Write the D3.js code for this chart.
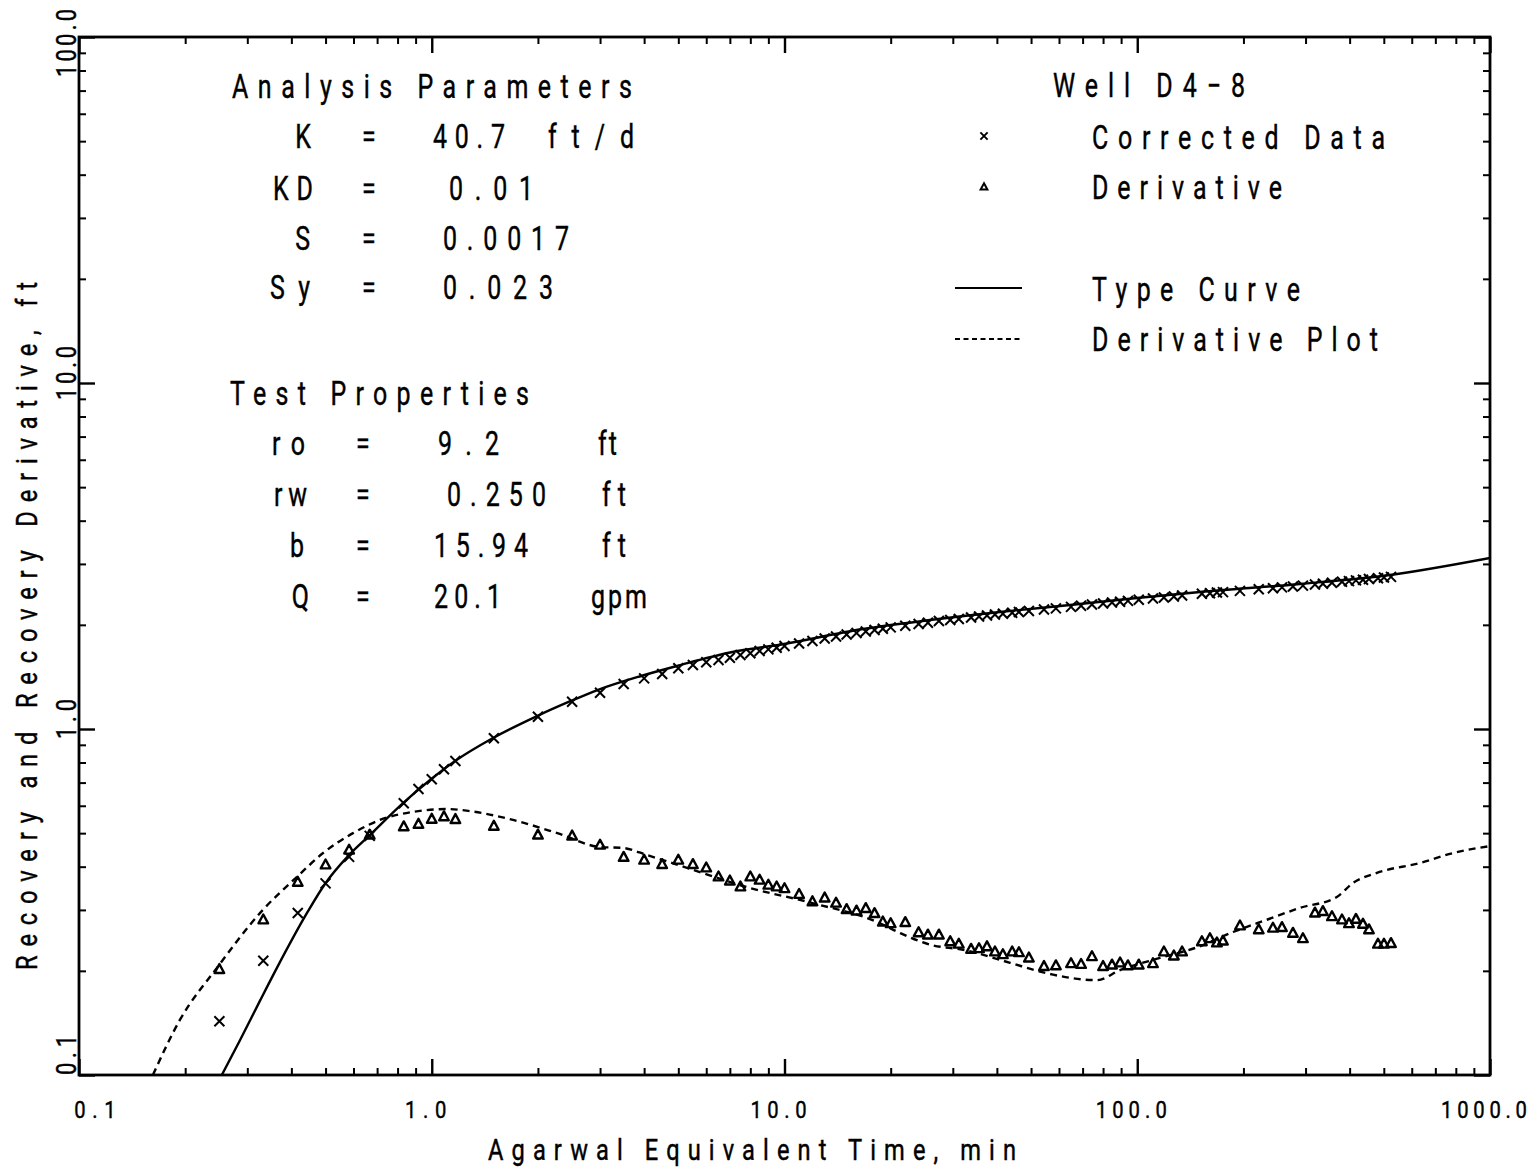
<!DOCTYPE html>
<html>
<head>
<meta charset="utf-8">
<script src="https://cdn.jsdelivr.net/npm/d3@7"></script>
<style>
  html, body { margin: 0; padding: 0; background: #fff; }
  svg { display: block; }
  text { font-family: Roboto, "DejaVu Sans", sans-serif; fill: #000; stroke: #000; stroke-width: 0.45px; }
</style>
</head>
<body>
<svg id="chart" width="1539" height="1169"></svg>
<script>
// ---------------- DATA ----------------
const timeMin = [0.25,0.333,0.417,0.5,0.583,0.667,0.833,0.917,1.0,1.083,1.167,1.5,2.0,2.5,3.0,3.5,4.0,4.5,5.0,5.5,6.0,6.5,7.0,7.5,8.0,8.5,9.0,9.5,10,11,12,13,14,15,16,17,18,19,20,22,24,25.5,27.4,29.5,31.2,33.8,35.6,37.5,39.5,41.6,44.2,46.2,49.3,54.4,58.8,64.9,69.3,74.4,80,84.8,89.4,94.1,101,110.8,119,127,134,152.5,160.7,168.2,175,195.5,221,242.5,257.2,276.3,294.9,319,336,356.4,380.5,398.3,416.9,436.4,453.8,481.3,500.5,524];

const correctedData = [0.143,0.214,0.294,0.358,0.427,0.491,0.610,0.671,0.716,0.765,0.808,0.940,
  1.085,1.199,1.273,1.349,1.401,1.442,1.498,1.531,1.559,1.583,1.607,1.636,1.655,1.680,1.699,1.718,1.738,
  1.767,1.796,1.827,1.851,1.876,1.895,1.913,1.932,1.949,1.967,
  1.988,2.011,2.029,2.052,2.065,2.079,2.100,2.114,2.128,2.142,2.154,2.167,2.179,2.193,
  2.214,2.232,2.254,2.271,2.289,2.306,2.320,2.332,2.346,2.363,2.384,2.400,2.415,2.430,
  2.460,2.469,2.479,2.486,2.508,2.534,2.552,2.566,2.580,2.596,2.616,2.630,2.646,2.664,2.676,2.689,2.701,2.712,2.728,2.740,2.752];

const derivativeData = [0.202,0.281,0.361,0.405,0.447,0.494,0.522,0.531,0.549,0.558,0.548,0.524,
  0.494,0.491,0.462,0.426,0.418,0.406,0.418,0.406,0.397,0.374,0.364,0.350,0.374,0.366,0.354,0.350,0.346,
  0.333,0.317,0.325,0.314,0.301,0.298,0.303,0.293,0.277,0.274,
  0.276,0.258,0.254,0.254,0.243,0.239,0.231,0.232,0.235,0.227,0.223,0.227,0.226,0.218,
  0.206,0.207,0.210,0.209,0.220,0.206,0.208,0.211,0.207,0.208,0.210,0.227,0.221,0.227,
  0.243,0.248,0.241,0.244,0.270,0.263,0.266,0.267,0.257,0.248,0.294,0.297,0.287,0.281,0.274,0.282,0.273,0.263,0.239,0.239,0.240];

const typeCurveTime  = [0.254,0.286,0.326,0.364,0.443,0.498,0.579,0.664,0.829,0.989,1.164,1.492,1.988,2.48,2.95,3.92,4.957,7.008,9.97,16.70,25.85,40.8,64.5,99.8,150.6,289.3,520.6,1000];
const typeCurveValue = [0.1,0.126,0.164,0.204,0.294,0.3565,0.429,0.491,0.611,0.712,0.808,0.942,1.090,1.205,1.296,1.423,1.521,1.664,1.761,1.945,2.065,2.179,2.283,2.391,2.489,2.625,2.787,3.120];

const derivPlotTime  = [0.162,0.193,0.246,0.332,0.415,0.492,0.598,0.713,0.885,1.105,1.283,1.70,2.27,3.00,3.49,4.08,5.29,7.83,12.0,18.6,21.3,25.9,32.1,43.6,53.0,57.7,76.9,89.4,116,148,187,233,289,368,409,478,633,786,1000];
const derivPlotValue = [0.1,0.144,0.204,0.300,0.374,0.438,0.500,0.546,0.576,0.587,0.579,0.546,0.500,0.456,0.453,0.432,0.397,0.349,0.314,0.275,0.257,0.238,0.230,0.211,0.199,0.195,0.188,0.201,0.218,0.234,0.259,0.281,0.304,0.327,0.359,0.384,0.410,0.438,0.459];

const xTickValues = [0.1, 1, 10, 100, 1000];
const xTickLabels = ["0.1", "1.0", "10.0", "100.0", "1000.0"];
const yTickValues = [0.1, 1, 10, 100];
const yTickLabels = ["0.1", "1.0", "10.0", "100.0"];

const xTitle = "Agarwal Equivalent Time, min";
const yTitle = "Recovery and Recovery Derivative, ft";

const analysisTitle = "Analysis Parameters";
const paramNames  = ["K", "KD", "S", "Sy"];
const paramValues = ["40.7", "0.01", "0.0017", "0.023"];
const paramUnits  = ["ft/d", "", "", ""];

const testTitle = "Test Properties";
const propNames  = ["ro", "rw", "b", "Q"];
const propValues = ["9.2", "0.250", "15.94", "20.1"];
const propUnits  = ["ft", "ft", "ft", "gpm"];

const wellTitle = "Well D4\u22128";
const legendLabels = ["Corrected Data", "Derivative", "Type Curve", "Derivative Plot"];

// ---------------- LAYOUT ----------------
const L = 79, R = 1490, T = 37, B = 1075;
const svg = d3.select("#chart");
svg.append("rect").attr("width", 1539).attr("height", 1169).attr("fill", "#fff");

const x = d3.scaleLog().domain([0.1, 1000]).range([L, R]);
const y = d3.scaleLog().domain([0.1, 100]).range([B, T]);

function stext(str, px, py, cap, opts = {}) {
  const sx = opts.sx || 0.74;
  const fs = cap / 0.711;
  let tr = `translate(${px},${py})`;
  if (opts.rot) tr += " rotate(-90)";
  tr += ` scale(${sx},1)`;
  const t = svg.append("text")
    .attr("transform", tr)
    .attr("text-anchor", opts.anchor || "start")
    .style("font-size", fs + "px")
    .text(str);
  if (opts.w && str.length > 1) {
    t.attr("textLength", opts.w / sx).attr("lengthAdjust", "spacing");
  }
  return t;
}

// ---------------- AXES (ticks inward on all four sides) ----------------
const minorTicks = [];
for (let d = 0.1; d < 1000; d *= 10) {
  for (let k = 2; k <= 9; k++) minorTicks.push(+(d * k).toPrecision(3));
}
const yMinor = minorTicks.filter(v => v < 100);

const axG = svg.append("g").attr("stroke", "#000").attr("fill", "none");
function axisTicks(axisGen, transform, major) {
  const g = axG.append("g").attr("transform", transform).call(axisGen);
  g.select(".domain").remove();
  g.selectAll("text").remove();
  g.selectAll("line").attr("stroke", "#000").attr("stroke-width", major ? 2.4 : 2);
}
const MAJ = 16, MIN = 7;
axisTicks(d3.axisTop(x).tickValues(xTickValues).tickSize(MAJ), `translate(0,${B})`, true);
axisTicks(d3.axisTop(x).tickValues(minorTicks).tickSize(MIN), `translate(0,${B})`, false);
axisTicks(d3.axisBottom(x).tickValues(xTickValues).tickSize(MAJ), `translate(0,${T})`, true);
axisTicks(d3.axisBottom(x).tickValues(minorTicks).tickSize(MIN), `translate(0,${T})`, false);
axisTicks(d3.axisRight(y).tickValues(yTickValues).tickSize(MAJ), `translate(${L},0)`, true);
axisTicks(d3.axisRight(y).tickValues(yMinor).tickSize(MIN), `translate(${L},0)`, false);
axisTicks(d3.axisLeft(y).tickValues(yTickValues).tickSize(MAJ), `translate(${R},0)`, true);
axisTicks(d3.axisLeft(y).tickValues(yMinor).tickSize(MIN), `translate(${R},0)`, false);

svg.append("rect").attr("x", L).attr("y", T).attr("width", R - L).attr("height", B - T)
  .attr("fill", "none").attr("stroke", "#000").attr("stroke-width", 2.8);

// tick labels
xTickValues.forEach((v, i) => {
  const cx = Math.max(x(v) - 6, L + 16);
  const s = xTickLabels[i];
  stext(s, cx, 1118, 17.5, { anchor: "middle", w: s.length * 14.8 - 3, sx: 0.82 });
});
yTickValues.forEach((v, i) => {
  const cy = Math.min(Math.max(y(v) - 10, T + 6), B - 20);
  const s = yTickLabels[i];
  stext(s, 76, cy, 20, { anchor: "middle", rot: true, w: s.length * 14 - 2, sx: 0.78 });
});

// axis titles
stext(xTitle, 488, 1160, 21, { w: 528, sx: 0.8 });
stext(yTitle, 37, 970, 21, { rot: true, w: 688, sx: 0.8 });

// ---------------- CURVES ----------------
const clipId = "plotClip";
svg.append("clipPath").attr("id", clipId).append("rect")
  .attr("x", L).attr("y", T).attr("width", R - L).attr("height", B - T);

const line = d3.line().x(d => x(d[0])).y(d => y(d[1])).curve(d3.curveMonotoneX);

svg.append("path")
  .datum(typeCurveTime.map((t, i) => [t, typeCurveValue[i]]))
  .attr("d", line).attr("fill", "none").attr("stroke", "#000").attr("stroke-width", 2.4)
  .attr("clip-path", `url(#${clipId})`);

svg.append("path")
  .datum(derivPlotTime.map((t, i) => [t, derivPlotValue[i]]))
  .attr("d", line).attr("fill", "none").attr("stroke", "#000").attr("stroke-width", 2.4)
  .attr("stroke-dasharray", "7,5")
  .attr("clip-path", `url(#${clipId})`);

// ---------------- MARKERS ----------------
function crossPath(s) { return `M${-s},${-s}L${s},${s}M${-s},${s}L${s},${-s}`; }
function triPath(s) { return `M0,${-s * 1.1}L${s},${s * 0.75}L${-s},${s * 0.75}Z`; }

svg.append("g").selectAll("path.cross")
  .data(timeMin.map((t, i) => [t, correctedData[i]]))
  .join("path").attr("class", "cross")
  .attr("transform", d => `translate(${x(d[0])},${y(d[1])})`)
  .attr("d", crossPath(5))
  .attr("fill", "none").attr("stroke", "#000").attr("stroke-width", 2);

svg.append("g").selectAll("path.tri")
  .data(timeMin.map((t, i) => [t, derivativeData[i]]))
  .join("path").attr("class", "tri")
  .attr("transform", d => `translate(${x(d[0])},${y(d[1])})`)
  .attr("d", triPath(4.8))
  .attr("fill", "none").attr("stroke", "#000").attr("stroke-width", 2.4)
  .attr("stroke-linejoin", "round");

// ---------------- ANNOTATION TEXT ----------------
const CAP = 24;
stext(analysisTitle, 232, 98, CAP, { w: 400 });
const paramBase = [148, 200, 250, 299];
const paramNameEnd = [311, 313, 310, 310];
const paramValueX = [[433, 505], [449, 533], [443, 569], [443, 553]];
const paramUnitX = [[548, 634], null, null, null];
paramNames.forEach((n, i) => {
  stext(n, paramNameEnd[i], paramBase[i], CAP, { anchor: "end", w: n.length > 1 ? 40 : 0 });
  stext("=", 362, paramBase[i], CAP);
  const vx = paramValueX[i];
  stext(paramValues[i], vx[0], paramBase[i], CAP, { w: vx[1] - vx[0] });
  if (paramUnits[i]) {
    const ux = paramUnitX[i];
    stext(paramUnits[i], ux[0], paramBase[i], CAP, { w: ux[1] - ux[0] });
  }
});

stext(testTitle, 230, 405, CAP, { w: 299 });
const propBase = [455, 506, 557, 608];
const propNameEnd = [305, 307, 304, 309];
const propValueX = [[438, 499], [447, 546], [434, 528], [434, 501]];
const propUnitX = [[598, 617], [602, 626], [602, 626], [591, 647]];
propNames.forEach((n, i) => {
  stext(n, propNameEnd[i], propBase[i], CAP, { anchor: "end", w: n.length > 1 ? 33 : 0 });
  stext("=", 356, propBase[i], CAP);
  const vx = propValueX[i];
  stext(propValues[i], vx[0], propBase[i], CAP, { w: vx[1] - vx[0] });
  const ux = propUnitX[i];
  stext(propUnits[i], ux[0], propBase[i], CAP, { w: ux[1] - ux[0] });
});

// ---------------- LEGEND ----------------
stext(wellTitle, 1053, 97, CAP, { w: 192 });
svg.append("path").attr("transform", "translate(984,136)").attr("d", crossPath(3.6))
  .attr("stroke", "#000").attr("stroke-width", 1.9).attr("fill", "none");
stext(legendLabels[0], 1092, 149, CAP, { w: 293 });
svg.append("path").attr("transform", "translate(984,187)").attr("d", triPath(3.4))
  .attr("stroke", "#000").attr("stroke-width", 2).attr("fill", "none");
stext(legendLabels[1], 1092, 199, CAP, { w: 190 });
svg.append("line").attr("x1", 955).attr("x2", 1022).attr("y1", 288).attr("y2", 288)
  .attr("stroke", "#000").attr("stroke-width", 2.2);
stext(legendLabels[2], 1092, 301, CAP, { w: 208 });
svg.append("line").attr("x1", 955).attr("x2", 1022).attr("y1", 339).attr("y2", 339)
  .attr("stroke", "#000").attr("stroke-width", 2.2).attr("stroke-dasharray", "5,3.5");
stext(legendLabels[3], 1092, 351, CAP, { w: 286 });
</script>
</body>
</html>
